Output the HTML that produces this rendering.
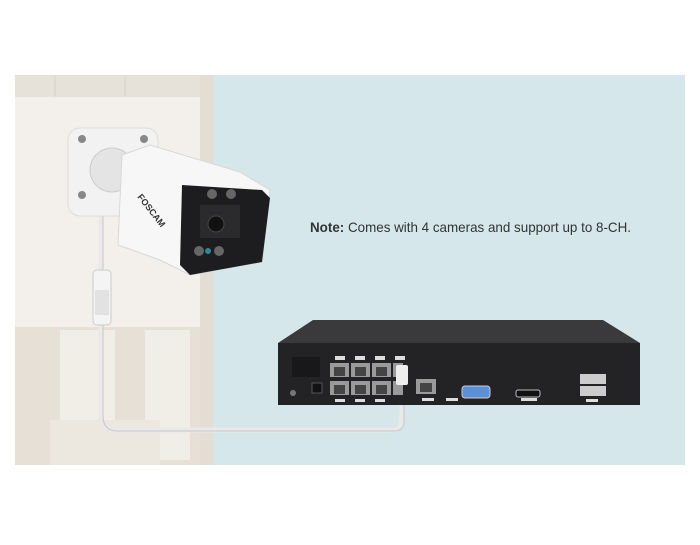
<!DOCTYPE html>
<html><head><style>
body{margin:0;background:#fff;width:700px;height:540px;overflow:hidden;font-family:"Liberation Sans",sans-serif}
</style></head><body>
<svg width="700" height="540" viewBox="0 0 700 540" xmlns="http://www.w3.org/2000/svg">
<rect x="213" y="75" width="472" height="390" fill="#d6e7ec"/>
<rect x="15" y="75" width="198" height="390" fill="#f0ece6"/>
<rect x="15" y="75" width="198" height="22" fill="#e6e1d9"/>
<line x1="55" y1="75" x2="55" y2="97" stroke="#d8d2c8"/>
<line x1="125" y1="75" x2="125" y2="97" stroke="#d8d2c8"/>
<rect x="15" y="97" width="198" height="230" fill="#f3f0eb"/>
<rect x="200" y="75" width="13" height="390" fill="#e3ddd3"/>
<rect x="15" y="327" width="185" height="138" fill="#e6e0d7"/>
<rect x="60" y="330" width="55" height="130" fill="#f1ede7"/>
<rect x="145" y="330" width="45" height="130" fill="#f1ede7"/>
<rect x="50" y="420" width="110" height="45" fill="#ece7df"/>
<path d="M101 215 L101 415 Q101 430 116 430 L392 430 Q402 430 402 420 L402 372" fill="none" stroke="#e9e9ea" stroke-width="5"/>
<path d="M101 215 L101 415 Q101 430 116 430 L392 430 Q402 430 402 420 L402 372" fill="none" stroke="#c8c8ca" stroke-width="1" transform="translate(2,1)"/>
<rect x="93" y="270" width="18" height="55" rx="4" fill="#f4f4f4" stroke="#ccc"/>
<rect x="95" y="290" width="14" height="25" fill="#e2e2e2"/>
<rect x="68" y="128" width="90" height="88" rx="12" fill="#f2f2f2" stroke="#ddd"/>
<circle cx="82" cy="139" r="4" fill="#888"/><circle cx="144" cy="139" r="4" fill="#888"/>
<circle cx="82" cy="195" r="4" fill="#888"/><circle cx="144" cy="195" r="4" fill="#888"/>
<ellipse cx="112" cy="170" rx="22" ry="22" fill="#e4e4e4" stroke="#ccc"/>
<polygon points="122,155 150,145 240,172 270,190 262,262 190,275 160,260 118,245" fill="#f7f7f7" stroke="#d8d8d8"/>
<polygon points="182,185 262,190 270,198 262,262 190,275 180,265" fill="#1d1d1f"/>
<rect x="200" y="205" width="40" height="33" fill="#2b2b2e"/>
<circle cx="216" cy="224" r="8" fill="#111" stroke="#444"/>
<circle cx="212" cy="194" r="5" fill="#666"/><circle cx="231" cy="194" r="5" fill="#666"/>
<circle cx="199" cy="251" r="5" fill="#666"/><circle cx="219" cy="251" r="5" fill="#666"/>
<circle cx="208" cy="251" r="3" fill="#2a8a9a"/>
<text x="0" y="0" font-size="9" font-weight="bold" fill="#333" transform="translate(137,197) rotate(52)">FOSCAM</text>
<text x="310" y="232" font-size="14" fill="#333" textLength="321" lengthAdjust="spacingAndGlyphs"><tspan font-weight="bold">Note:</tspan> Comes with 4 cameras and support up to 8-CH.</text>
<polygon points="313,320 603,320 640,343 278,343" fill="#3a3a3c"/>
<rect x="278" y="343" width="362" height="62" fill="#232325"/>
<rect x="292" y="357" width="28" height="20" fill="#18181a"/>
<rect x="312" y="383" width="10" height="10" fill="#111" stroke="#555"/>
<circle cx="293" cy="393" r="3" fill="#777"/>
<g fill="#9a9a9a">
<rect x="330" y="363" width="19" height="14"/><rect x="351" y="363" width="19" height="14"/><rect x="372" y="363" width="19" height="14"/><rect x="393" y="363" width="10" height="14"/>
<rect x="330" y="381" width="19" height="14"/><rect x="351" y="381" width="19" height="14"/><rect x="372" y="381" width="19" height="14"/><rect x="393" y="381" width="10" height="14"/>
<rect x="416" y="379" width="20" height="15"/>
</g>
<g fill="#444">
<rect x="334" y="367" width="11" height="9"/><rect x="355" y="367" width="11" height="9"/><rect x="376" y="367" width="11" height="9"/>
<rect x="334" y="385" width="11" height="9"/><rect x="355" y="385" width="11" height="9"/><rect x="376" y="385" width="11" height="9"/>
<rect x="420" y="383" width="12" height="9"/>
</g>
<g fill="#ddd">
<rect x="335" y="356" width="10" height="4"/><rect x="355" y="356" width="10" height="4"/><rect x="375" y="356" width="10" height="4"/><rect x="395" y="356" width="10" height="4"/>
<rect x="335" y="399" width="10" height="3"/><rect x="355" y="399" width="10" height="3"/><rect x="375" y="399" width="10" height="3"/>
<rect x="422" y="398" width="12" height="3"/><rect x="446" y="398" width="12" height="3"/><rect x="521" y="398" width="16" height="3"/><rect x="586" y="399" width="12" height="3"/>
</g>
<rect x="396" y="365" width="12" height="20" rx="2" fill="#eee"/>
<rect x="462" y="386" width="28" height="12" rx="3" fill="#5b8fd6" stroke="#ccc"/>
<rect x="516" y="390" width="24" height="7" rx="2" fill="#111" stroke="#bbb"/>
<rect x="580" y="374" width="26" height="10" fill="#ccc"/>
<rect x="580" y="386" width="26" height="10" fill="#ccc"/>
</svg>
</body></html>
